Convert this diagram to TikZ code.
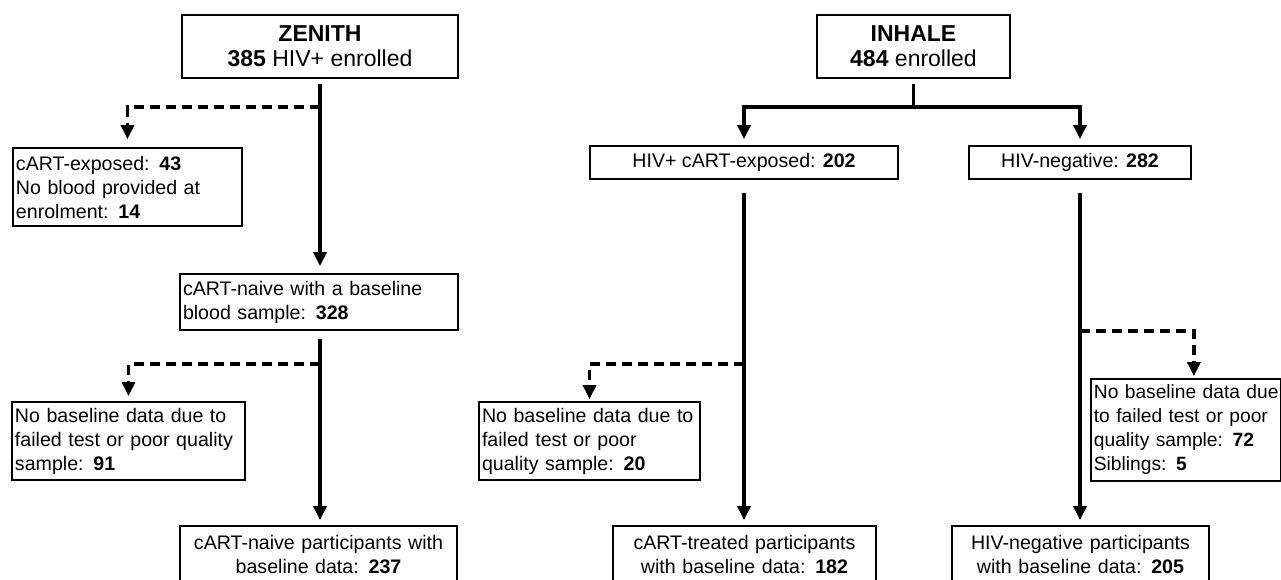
\documentclass[tikz,border=0pt]{standalone}
\usepackage{fontspec}
\setmainfont{Liberation Sans}
\usetikzlibrary{arrows.meta,positioning}

\begin{document}
\begin{tikzpicture}[x=0.5pt,y=-0.5pt,
  box/.style={draw, line width=0.9pt, inner xsep=1.5pt, inner ysep=2pt, font=\fontsize{9.8}{12}\selectfont},
  leftbox/.style={box, align=left, text width=#1},
  midbox/.style={box, align=center, text width=#1},
  titlebox/.style={box, align=center, font=\fontsize{11.5}{12.5}\selectfont},
  flow/.style={line width=1.6pt, -{Triangle[width=6.5pt,length=7pt]}},
  drop/.style={flow, dash pattern=on 5pt off 3pt}]
\clip (0,0) rectangle (1281,579);
\node[titlebox, minimum width=138pt, minimum height=31.5pt] (zen) at (320,46.5) {\textbf{ZENITH}\\\textbf{385} HIV+ enrolled};
\node[titlebox, minimum width=96.5pt, minimum height=31.5pt] (inh) at (913.5,46.5) {\textbf{INHALE}\\\textbf{484} enrolled};
\node[leftbox=111.5pt, minimum height=39pt] (exp43) at (127.5,187) {cART-exposed: \textbf{43}\\No blood provided at\\enrolment: \textbf{14}};
\node[leftbox=136pt, minimum height=28pt] (naive) at (319,302) {cART-naive with a baseline\\blood sample: \textbf{328}};
\node[leftbox=113.5pt, minimum height=39pt] (nb91) at (128.5,441) {No baseline data due to\\failed test or poor quality\\sample: \textbf{91}};
\node[midbox=135.5pt, minimum height=28pt] (fin237) at (318.5,554) {cART-naive participants with\\baseline data: \textbf{237}};
\node[box, minimum width=154pt, minimum height=16.5pt] (hivp) at (744,162.5) {HIV+ cART-exposed: \textbf{202}};
\node[box, minimum width=111pt, minimum height=16.5pt] (hivn) at (1080,162.5) {HIV-negative: \textbf{282}};
\node[leftbox=107.5pt, minimum height=39pt] (nb20) at (589.5,441) {No baseline data due to\\failed test or poor\\quality sample: \textbf{20}};
\node[midbox=128.5pt, minimum height=28pt] (trt182) at (744.5,554) {cART-treated participants\\with baseline data: \textbf{182}};
\node[leftbox=92pt, minimum height=51pt, anchor=west, font=\fontsize{9.6}{12}\selectfont] (nb72) at (1090,430) {\mbox{No baseline data due}\\to failed test or poor\\quality sample: \textbf{72}\\Siblings: \textbf{5}};
\node[midbox=125.5pt, minimum height=28pt] (neg205) at (1080.5,554) {HIV-negative participants\\with baseline data: \textbf{205}};
\coordinate (zsplit) at (320,107);
\coordinate (nsplit) at (320,364);
\coordinate (isplit) at (913.5,107);
\coordinate (psplit) at (744,364);
\coordinate (gsplit) at (1080,331);
\draw[flow, shorten <=2.5pt, shorten >=3.5pt] (zen.south) -- (zen.south |- naive.north);
\draw[drop, shorten >=4pt] (zsplit) -| (exp43.north);
\draw[flow, shorten <=4pt, shorten >=2.5pt] (zen.south |- naive.south) -- (zen.south |- fin237.north);
\draw[drop, shorten >=2.5pt] (nsplit) -| (nb91.north);
\draw[line width=1.6pt, shorten <=2.5pt] (inh.south) -- (isplit);
\draw[flow, shorten >=3pt] (isplit) -| (hivp.north);
\draw[flow, shorten >=3pt] (isplit) -| (hivn.north);
\draw[flow, shorten <=6.5pt, shorten >=2.5pt] (hivp.south) -- (hivp.south |- trt182.north);
\draw[drop, shorten >=1pt] (psplit) -| (nb20.north);
\draw[flow, shorten <=6.5pt, shorten >=2.5pt] (hivn.south) -- (hivn.south |- neg205.north);
\draw[drop, shorten >=1pt] (gsplit) -| ([xshift=4pt]nb72.north);
\end{tikzpicture}
\end{document}
